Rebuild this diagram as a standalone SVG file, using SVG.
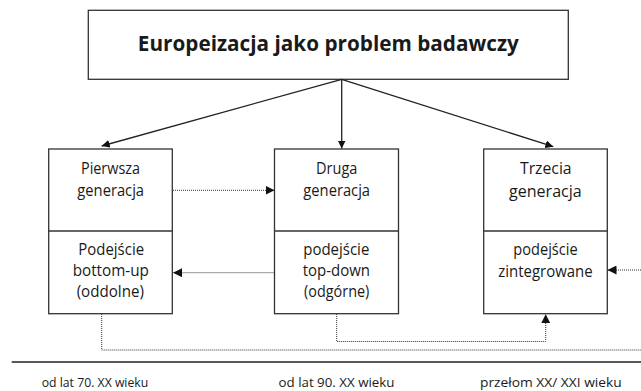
<svg xmlns="http://www.w3.org/2000/svg" width="641" height="391" viewBox="0 0 641 391">
<style>
.box{fill:#fff;stroke:#333;stroke-width:1.3}
.div{stroke:#333;stroke-width:1.3}
.t{font-family:"Open Sans","Noto Sans",sans-serif;font-size:16px;fill:#1a1a1a;text-anchor:middle}
.title{font-family:"Open Sans","Noto Sans",sans-serif;font-size:20.5px;font-weight:bold;fill:#1a1a1a;text-anchor:middle}
.lbl{font-family:"Open Sans","Noto Sans",sans-serif;font-size:13px;fill:#1a1a1a}
.solid{stroke:#222;stroke-width:1.3;fill:none}
.dot{stroke:#333;stroke-width:1;stroke-dasharray:1 1;fill:none}
</style>
<defs>
<marker id="ah" viewBox="0 0 10 10" refX="10" refY="5" markerWidth="8" markerHeight="8" markerUnits="userSpaceOnUse" orient="auto">
<path d="M0,0 L10,5 L0,10 Z" fill="#111"/>
</marker>
<marker id="ahd" viewBox="0 0 10 10" refX="10" refY="5" markerWidth="9" markerHeight="9" markerUnits="userSpaceOnUse" orient="auto">
<path d="M0,0 L10,5 L0,10 Z" fill="#111"/>
</marker>
</defs>
<rect width="641" height="391" fill="#fff"/>
<g id="title">
<rect class="box" x="88.3" y="10.3" width="480" height="69"/>
<text class="title" x="328.3" y="51" textLength="381" lengthAdjust="spacingAndGlyphs">Europeizacja jako problem badawczy</text>
</g>
<g id="gen1">
<rect class="box" x="48.7" y="149" width="123.6" height="164.7"/>
<line class="div" x1="48.7" y1="231" x2="172.3" y2="231"/>
<text class="t" x="110.5" y="174.3" textLength="59" lengthAdjust="spacingAndGlyphs">Pierwsza</text>
<text class="t" x="110.7" y="195.7" textLength="66.7" lengthAdjust="spacingAndGlyphs">generacja</text>
<text class="t" x="111.2" y="255" textLength="65.7" lengthAdjust="spacingAndGlyphs">Podejście</text>
<text class="t" x="110.8" y="276.3" textLength="76.3" lengthAdjust="spacingAndGlyphs">bottom-up</text>
<text class="t" x="110.3" y="297.3" textLength="67.3" lengthAdjust="spacingAndGlyphs">(oddolne)</text>
</g>
<g id="gen2">
<rect class="box" x="274.5" y="149" width="124" height="164.7"/>
<line class="div" x1="274.5" y1="231" x2="398.5" y2="231"/>
<text class="t" x="336.7" y="174.3" textLength="41.3" lengthAdjust="spacingAndGlyphs">Druga</text>
<text class="t" x="336.7" y="195.7" textLength="66.7" lengthAdjust="spacingAndGlyphs">generacja</text>
<text class="t" x="336.3" y="255" textLength="66" lengthAdjust="spacingAndGlyphs">podejście</text>
<text class="t" x="336.3" y="276.3" textLength="67.3" lengthAdjust="spacingAndGlyphs">top-down</text>
<text class="t" x="336.7" y="297.3" textLength="65.3" lengthAdjust="spacingAndGlyphs">(odgórne)</text>
</g>
<g id="gen3">
<rect class="box" x="483.7" y="149" width="123.6" height="164.7"/>
<line class="div" x1="483.7" y1="231" x2="607.3" y2="231"/>
<text class="t" x="545.8" y="174.3" font-size="17" textLength="51.7" lengthAdjust="spacingAndGlyphs">Trzecia</text>
<text class="t" x="545.4" y="196.5" font-size="17" textLength="72.7" lengthAdjust="spacingAndGlyphs">generacja</text>
<text class="t" x="545.5" y="255" textLength="64.3" lengthAdjust="spacingAndGlyphs">podejście</text>
<text class="t" x="545.5" y="276.5" textLength="94.3" lengthAdjust="spacingAndGlyphs">zintegrowane</text>
</g>
<g id="connectors">
<line class="solid" x1="341.7" y1="79.3" x2="101.7" y2="146" marker-end="url(#ah)"/>
<line class="solid" x1="341.7" y1="79.3" x2="341.7" y2="148.5" marker-end="url(#ah)"/>
<line class="solid" x1="341.7" y1="79.3" x2="553.3" y2="146.7" marker-end="url(#ah)"/>
<line class="dot" x1="173" y1="190.3" x2="274.5" y2="190.3" marker-end="url(#ahd)"/>
<line class="dot" x1="274.5" y1="272.7" x2="173" y2="272.7" marker-end="url(#ahd)"/>
<line class="dot" x1="645" y1="270" x2="607.5" y2="270" marker-end="url(#ahd)"/>
<polyline class="dot" points="101.7,314 101.7,350 645,350"/>
<polyline class="dot" points="336.7,314 336.7,341.5 545.7,341.5 545.7,314.2" marker-end="url(#ahd)"/>
</g>
<g id="timeline">
<line x1="11.7" y1="362" x2="641" y2="362" stroke="#222" stroke-width="1.5"/>
<text class="lbl" x="41.7" y="387.3" textLength="106.6" lengthAdjust="spacingAndGlyphs">od lat 70. XX wieku</text>
<text class="lbl" x="278.5" y="387.3" textLength="116" lengthAdjust="spacingAndGlyphs">od lat 90. XX wieku</text>
<text class="lbl" x="480" y="387.3" textLength="141.7" lengthAdjust="spacingAndGlyphs">przełom XX/ XXI wieku</text>
</g>
</svg>
